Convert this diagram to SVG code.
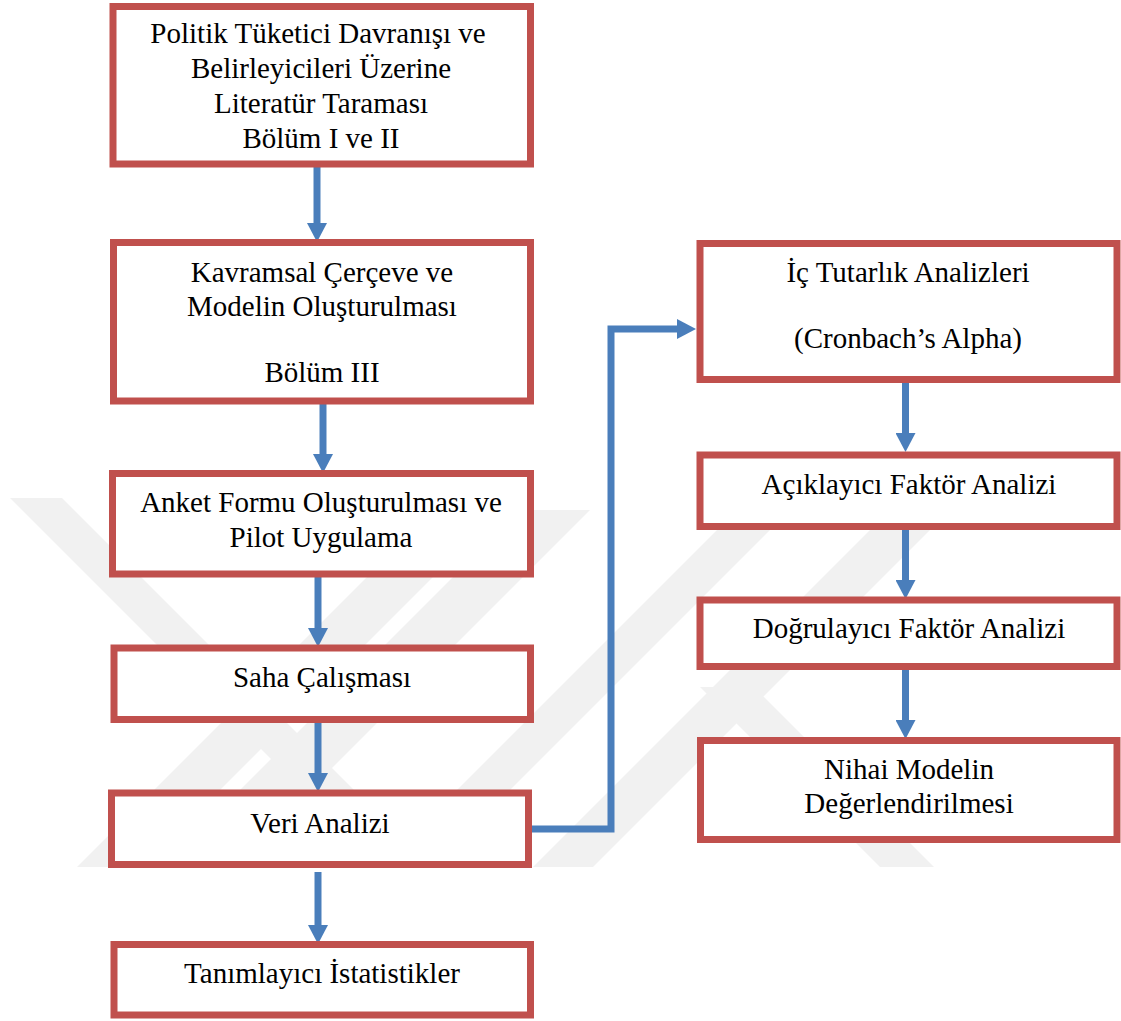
<svg xmlns="http://www.w3.org/2000/svg" width="1121" height="1021" viewBox="0 0 1121 1021">
<style>
.box{fill:#ffffff;stroke:#C0504D;stroke-width:7}
.lbl{font-family:"Liberation Serif","Times New Roman",serif;font-size:29px;fill:#000;text-anchor:middle}
.con{fill:none;stroke:#4A7EBB;stroke-width:7}
.wm{fill:#f1f1f1}
</style>
<defs>
<marker id="ah" markerUnits="userSpaceOnUse" markerWidth="20" markerHeight="20" refX="0" refY="10" orient="auto" viewBox="0 0 19 20">
<path d="M0,0 L19,10 L0,20 Z" fill="#4A7EBB"/>
</marker>
<clipPath id="wmclip"><rect x="0" y="498" width="1121" height="369"/></clipPath>
</defs>
<rect width="1121" height="1021" fill="#ffffff"/>
<g id="watermark" clip-path="url(#wmclip)">
<polygon class="wm" points="10,498 62,498 420,856 368,856"/>
<polygon class="wm" points="434,510 500,510 143,867 77,867"/>
<polygon class="wm" points="520,510 590,510 233,867 163,867"/>
<polygon class="wm" points="737,510 790,510 433,867 380,867"/>
<polygon class="wm" points="890,510 950,510 593,867 533,867"/>
<polygon class="wm" points="700,687 754,687 934,867 880,867"/>
</g>
<g id="connectors">
<line class="con" x1="317" y1="167" x2="317" y2="223" marker-end="url(#ah)"/>
<line class="con" x1="323" y1="404" x2="323" y2="454" marker-end="url(#ah)"/>
<line class="con" x1="318" y1="577" x2="318" y2="628" marker-end="url(#ah)"/>
<line class="con" x1="318" y1="722" x2="318" y2="773" marker-end="url(#ah)"/>
<line class="con" x1="318" y1="872" x2="318" y2="925" marker-end="url(#ah)"/>
<polyline class="con" points="529,829 611,829 611,329 677,329" marker-end="url(#ah)"/>
<line class="con" x1="905.5" y1="382" x2="905.5" y2="433" marker-end="url(#ah)"/>
<line class="con" x1="905.5" y1="529" x2="905.5" y2="580" marker-end="url(#ah)"/>
<line class="con" x1="905.5" y1="669" x2="905.5" y2="720" marker-end="url(#ah)"/>
</g>
<g id="n1"><rect class="box" x="113" y="6.5" width="417.5" height="157.5"/>
<text class="lbl" x="318" y="43">Politik Tüketici Davranışı ve</text>
<text class="lbl" x="321" y="78">Belirleyicileri Üzerine</text>
<text class="lbl" x="321" y="113">Literatür Taraması</text>
<text class="lbl" x="321" y="148">Bölüm I ve II</text></g>
<g id="n2"><rect class="box" x="113.5" y="242.5" width="417" height="158.5"/>
<text class="lbl" x="322" y="282">Kavramsal Çerçeve ve</text>
<text class="lbl" x="322" y="316">Modelin Oluşturulması</text>
<text class="lbl" x="322" y="382">Bölüm III</text></g>
<g id="n3"><rect class="box" x="112.5" y="473.5" width="418" height="100.5"/>
<text class="lbl" x="321" y="512">Anket Formu Oluşturulması ve</text>
<text class="lbl" x="321" y="547">Pilot Uygulama</text></g>
<g id="n4"><rect class="box" x="114" y="648" width="416.5" height="71.5"/>
<text class="lbl" x="322" y="687">Saha Çalışması</text></g>
<g id="n5"><rect class="box" x="111.5" y="793" width="417" height="71.5"/>
<text class="lbl" x="320" y="833">Veri Analizi</text></g>
<g id="n6"><rect class="box" x="114" y="944.5" width="416.5" height="70.5"/>
<text class="lbl" x="322" y="983">Tanımlayıcı İstatistikler</text></g>
<g id="r1"><rect class="box" x="700" y="243.5" width="417" height="136"/>
<text class="lbl" x="908" y="282">İç Tutarlık Analizleri</text>
<text class="lbl" x="908" y="348">(Cronbach’s Alpha)</text></g>
<g id="r2"><rect class="box" x="700" y="455" width="417" height="71.5"/>
<text class="lbl" x="909" y="494">Açıklayıcı Faktör Analizi</text></g>
<g id="r3"><rect class="box" x="700" y="600" width="417" height="66.5"/>
<text class="lbl" x="909" y="638">Doğrulayıcı Faktör Analizi</text></g>
<g id="r4"><rect class="box" x="700.5" y="740.5" width="416.5" height="99"/>
<text class="lbl" x="909" y="779">Nihai Modelin</text>
<text class="lbl" x="909" y="813">Değerlendirilmesi</text></g>
</svg>
